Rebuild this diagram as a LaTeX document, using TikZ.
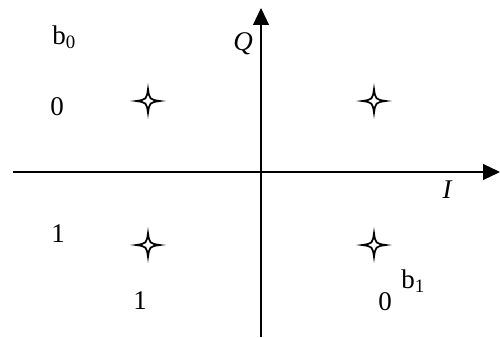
\documentclass[tikz,border=0pt]{standalone}
\usepackage{fontspec}
\setmainfont{Liberation Serif}
\usetikzlibrary{arrows.meta}
\begin{document}
\begin{tikzpicture}[x=1pt,y=-1pt,
  axis/.style={line width=1.2pt,-{Triangle[length=17pt,width=16pt]}},
  lbl/.style={font=\fontsize{27}{31}\selectfont,inner sep=0pt},
  star/.pic={\draw[line width=1.7pt,fill=white] (0,-12) .. controls (1.5,-1.5) .. (12,0) .. controls (1.5,1.5) .. (0,12) .. controls (-1.5,1.5) .. (-12,0) .. controls (-1.5,-1.5) .. cycle;}]
\useasboundingbox (0,0) rectangle (500,337);
\coordinate (ox) at (13,172);
\coordinate (ix) at (500,172);
\coordinate (oy) at (261,337);
\coordinate (qy) at (261,8);
\draw[axis] (ox) -- (ix);
\draw[axis] (oy) -- (qy);
\node[lbl] (Q) at (243,44) {\itshape Q};
\node[lbl] (I) at (447,190) {\itshape I};
\pic at (148,101) {star};
\pic at (374,101) {star};
\pic at (148,245) {star};
\pic at (374,245) {star};
\node[lbl] (b0) at (64,37) {b\textsubscript{0}};
\node[lbl] (z1) at (57,107) {0};
\node[lbl] (o1) at (58,234) {1};
\node[lbl] (o2) at (140,301) {1};
\node[lbl] (z2) at (385,302) {0};
\node[lbl] (b1) at (413,281) {b\textsubscript{1}};
\end{tikzpicture}
\end{document}
